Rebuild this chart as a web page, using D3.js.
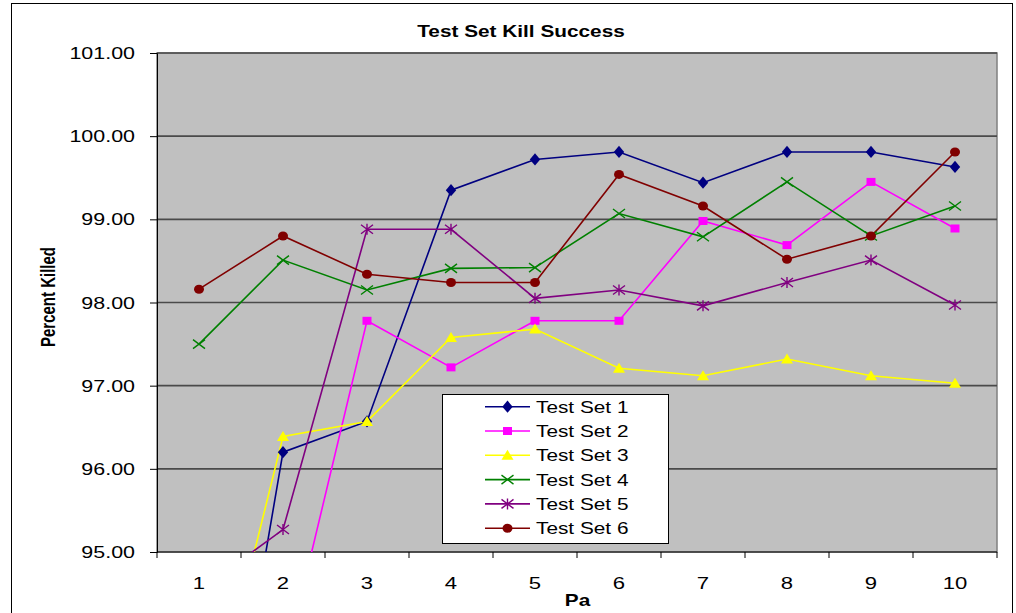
<!DOCTYPE html>
<html><head><meta charset="utf-8">
<script src="https://cdn.jsdelivr.net/npm/d3@7"></script>
<style>body{margin:0;background:#fff}svg{display:block;font-family:"Liberation Sans",Arial,sans-serif}</style>
</head><body><svg id="c" width="1016" height="613"></svg>
<script>
const categories = [1,2,3,4,5,6,7,8,9,10];
const seriesNames = ["Test Set 1","Test Set 2","Test Set 3","Test Set 4","Test Set 5","Test Set 6"];
const set1 = [90.31, 96.20, 96.57, 99.35, 99.72, 99.81, 99.44, 99.81, 99.81, 99.63];
const set2 = [92.50, 93.56, 97.78, 97.22, 97.78, 97.78, 98.98, 98.69, 99.45, 98.89];
const set3 = [92.32, 96.39, 96.57, 97.58, 97.68, 97.21, 97.12, 97.32, 97.12, 97.03];
const set4 = [97.50, 98.51, 98.15, 98.41, 98.42, 99.07, 98.79, 99.45, 98.80, 99.16];
const set5 = [94.53, 95.27, 98.88, 98.88, 98.05, 98.15, 97.96, 98.24, 98.51, 97.97];
const set6 = [98.16, 98.80, 98.34, 98.24, 98.24, 99.54, 99.16, 98.52, 98.80, 99.81];
const yTicks = [95,96,97,98,99,100,101];
const title = "Test Set Kill Success";
const xTitle = "Pa";
const yTitle = "Percent Killed";

const colors = ["#000080","#ff00ff","#ffff00","#008000","#800080","#800000"];
const markers = ["diamond","square","triangle","x","star","circle"];
const data = [set1,set2,set3,set4,set5,set6];

const SX = 1.3;
const svg = d3.select("#c");
const L = 157, R = 997, T = 53, B = 552;

// outer frame
svg.append("rect").attr("x",11.5).attr("y",3.5).attr("width",1001).attr("height",620)
  .attr("fill","#fff").attr("stroke","#000").attr("stroke-width",1);

const x = d3.scaleBand().domain(categories).range([L,R]);
const y = d3.scaleLinear().domain([95,101]).range([B,T]);
const cx = d => x(d) + x.bandwidth()/2;

function txt(g, s, px, py, opts){
  const t = g.append("text").attr("transform",`translate(${px},${py}) scale(${SX},1)` + (opts.rot?` rotate(${opts.rot})`:""))
    .text(s).attr("font-size",opts.size).attr("fill","#000");
  if(opts.anchor) t.attr("text-anchor",opts.anchor);
  if(opts.bold) t.attr("font-weight","bold");
  return t;
}

// plot area
svg.append("rect").attr("x",L).attr("y",T).attr("width",R-L).attr("height",B-T)
  .attr("fill","#c0c0c0").attr("stroke","#808080").attr("stroke-width",1.5);

// gridlines
svg.append("g").selectAll("line").data(yTicks.filter(v=>v>95)).join("line")
  .attr("x1",L).attr("x2",R).attr("y1",d=>y(d)).attr("y2",d=>y(d))
  .attr("stroke","#4a4a4a").attr("stroke-width",1.6);

// y axis
const yAx = svg.append("g").attr("transform",`translate(${L},0)`)
  .call(d3.axisLeft(y).tickValues(yTicks).tickFormat(d3.format(".2f")).tickSize(7).tickPadding(0));
yAx.select(".domain").attr("stroke","#000");
yAx.selectAll(".tick line").attr("stroke","#000");
yAx.selectAll(".tick text").remove();
yTicks.forEach(v => txt(svg, d3.format(".2f")(v), 135, y(v)+6, {size:16.5, anchor:"end"}));

// x axis
svg.append("line").attr("x1",L).attr("x2",R).attr("y1",B).attr("y2",B).attr("stroke","#000");
const edges = categories.map(c=>x(c)).concat([R]);
svg.append("g").selectAll("line").data(edges).join("line")
  .attr("x1",d=>d).attr("x2",d=>d).attr("y1",B).attr("y2",B+6).attr("stroke","#000");
categories.forEach(c => txt(svg, String(c), cx(c), 589, {size:17, anchor:"middle"}));

// titles
txt(svg, title, 521, 36.5, {size:16, anchor:"middle", bold:true});
txt(svg, xTitle, 577.5, 605.5, {size:16, anchor:"middle", bold:true});
txt(svg, yTitle, 55, 297, {size:15, anchor:"middle", bold:true, rot:-90});

// clip
svg.append("clipPath").attr("id","pc").append("rect").attr("x",L).attr("y",T).attr("width",R-L).attr("height",B-T);

function drawMarker(g, type, color, px, py){
  const s = g.append("g").attr("transform",`translate(${px},${py})`);
  if(type==="diamond") s.append("path").attr("d",d3.symbol(d3.symbolDiamond,60)()).attr("fill",color).attr("transform","scale(1.25,0.85)");
  else if(type==="square") s.append("rect").attr("x",-4.5).attr("y",-4).attr("width",9).attr("height",8).attr("fill",color);
  else if(type==="triangle") s.append("path").attr("d","M0,-5.5L6,4.5L-6,4.5Z").attr("fill",color);
  else if(type==="circle") s.append("ellipse").attr("rx",5).attr("ry",4.5).attr("fill",color);
  else if(type==="x") s.append("path").attr("d","M-6,-4.5L6,4.5M-6,4.5L6,-4.5").attr("stroke",color).attr("stroke-width",1.4);
  else if(type==="star") s.append("path").attr("d","M-6,-4.5L6,4.5M-6,4.5L6,-4.5M0,-5.5L0,5.5").attr("stroke",color).attr("stroke-width",1.4);
}

const line = d3.line().x((d,i)=>cx(categories[i])).y(d=>y(d));
const plot = svg.append("g").attr("clip-path","url(#pc)");
data.forEach((vals,k)=>{
  plot.append("path").datum(vals).attr("d",line).attr("fill","none")
    .attr("stroke",colors[k]).attr("stroke-width",1.6);
});
data.forEach((vals,k)=>{
  vals.forEach((v,i)=>{ if(v>=95 && v<=101) drawMarker(plot, markers[k], colors[k], cx(categories[i]), y(v)); });
});

// legend
const lg = svg.append("g");
lg.append("rect").attr("x",442.5).attr("y",394.5).attr("width",226).attr("height",149)
  .attr("fill","#fff").attr("stroke","#000");
seriesNames.forEach((n,k)=>{
  const ry = 406.7 + k*24.3;
  lg.append("line").attr("x1",485).attr("x2",530).attr("y1",ry).attr("y2",ry).attr("stroke",colors[k]).attr("stroke-width",1.6);
  drawMarker(lg, markers[k], colors[k], 507.5, ry);
  txt(lg, n, 536, ry+6, {size:16});
});
</script></body></html>
